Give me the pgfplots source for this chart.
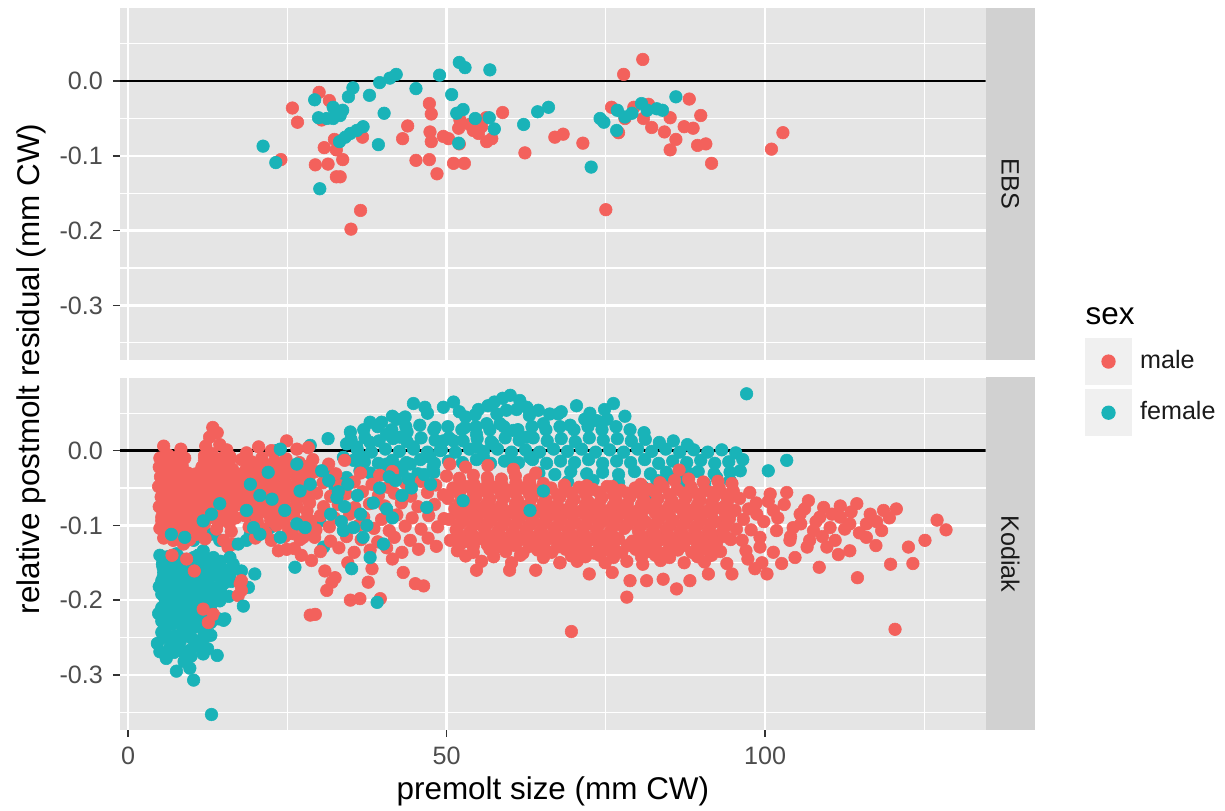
\documentclass[border=0pt]{standalone}
\usepackage{fontspec}
\setmainfont{Liberation Sans}
\usepackage{pgfplots}
\pgfplotsset{compat=1.18}

\definecolor{mred}{HTML}{F3615C}
\definecolor{fteal}{HTML}{19B3B8}
\definecolor{panelbg}{HTML}{E5E5E5}
\definecolor{stripbg}{HTML}{D1D1D1}
\definecolor{keybg}{HTML}{F0F0F0}
\definecolor{tickcol}{HTML}{4D4D4D}
\definecolor{tickmark}{HTML}{333333}
\definecolor{striptext}{HTML}{1A1A1A}

\pgfplotsset{
  panel/.style={
    scale only axis, width=302.925pt, height=123.375pt,
    xmin=-1.26, xmax=134.6, ymin=-0.3737, ymax=0.0978,
    axis background/.style={fill=panelbg},
    axis line style={draw=none},
    xtick={0,50,100}, minor xtick={25,75,125},
    ytick={-0.3,-0.2,-0.1,0}, yticklabels={-0.3,-0.2,-0.1,0.0},
    minor ytick={-0.35,-0.25,-0.15,-0.05,0.05},
    grid=both,
    major grid style={white, line width=0.9pt},
    minor grid style={white, line width=0.45pt},
    minor tick length=0pt, major tick length=2.45pt,
    tick align=outside,
    xtick pos=left, ytick pos=left,
    tick style={draw=tickmark, line width=0.5pt},
    /pgf/number format/assume math mode=true,
    ticklabel style={font=\fontsize{8.8}{10}\selectfont, text=tickcol},
  },
  male/.style={only marks, mark=*, mark size=2.2pt, color=mred, mark options={line width=0.2pt}},
  female/.style={only marks, mark=*, mark size=2.2pt, color=fteal, mark options={line width=0.2pt}},
  zeroline/.style={black, line width=0.9pt},
}

\begin{document}
\begin{tikzpicture}
\path[use as bounding box] (0,0) rectangle (428.75pt,283.85pt);

% ---------------- EBS ----------------
\begin{axis}[panel, at={(42pt,157.675pt)}, anchor=south west,
  xticklabels={}, xtick style={draw=none}]
\addplot[male] coordinates {
(24.0,-0.105) (25.8,-0.036) (26.6,-0.055) (30.0,-0.015) (31.6,-0.026) (30.4,-0.052)
(32.4,-0.078) (30.8,-0.089) (32.7,-0.092) (33.7,-0.105) (29.4,-0.112) (31.4,-0.111)
(32.7,-0.128) (33.3,-0.128) (36.5,-0.173) (35.0,-0.198) (36.8,-0.075) (43.9,-0.060)
(43.1,-0.077) (47.3,-0.030) (47.6,-0.044) (47.4,-0.068) (47.6,-0.081) (49.5,-0.074)
(50.3,-0.077) (45.2,-0.106) (47.3,-0.105) (48.5,-0.124) (51.1,-0.110) (52.8,-0.110)
(52.0,-0.084) (51.9,-0.063) (52.1,-0.052) (54.2,-0.066) (55.5,-0.061) (56.2,-0.049)
(56.3,-0.081) (57.1,-0.077) (58.8,-0.042) (62.3,-0.096) (67.0,-0.075) (68.3,-0.071)
(71.4,-0.083) (75.0,-0.172) (77.8,0.009) (80.8,0.029) (75.9,-0.035) (77.0,-0.069)
(79.4,-0.035) (81.7,-0.031) (80.9,-0.050) (82.2,-0.062) (85.1,-0.049) (84.2,-0.068)
(86.0,-0.078) (85.1,-0.092) (88.1,-0.024) (87.3,-0.061) (88.7,-0.063) (89.9,-0.046)
(89.4,-0.086) (90.7,-0.084) (91.6,-0.110) (101.0,-0.091) (102.8,-0.069) (78.0,-0.050)
(53.6,-0.058) (55.0,-0.070)
};
\addplot[female] coordinates {
(21.2,-0.087) (23.2,-0.109) (29.3,-0.025) (30.1,-0.144) (29.9,-0.049) (31.2,-0.050)
(32.2,-0.050) (32.2,-0.035) (33.7,-0.039) (33.3,-0.046) (34.6,-0.021) (35.3,-0.009)
(33.2,-0.081) (34.1,-0.075) (34.9,-0.070) (35.9,-0.066) (36.9,-0.061) (37.9,-0.019)
(39.3,-0.085) (39.5,-0.002) (40.2,-0.043) (41.1,0.004) (42.1,0.009) (45.2,-0.010)
(48.9,0.008) (50.8,-0.018) (52.0,0.025) (52.9,0.018) (56.8,0.015) (51.6,-0.043)
(52.6,-0.038) (51.9,-0.083) (54.5,-0.050) (56.7,-0.049) (57.5,-0.064) (62.1,-0.058)
(64.3,-0.041) (66.0,-0.035) (72.7,-0.115) (74.1,-0.050) (74.7,-0.055) (76.8,-0.039)
(76.7,-0.066) (78.0,-0.048) (79.1,-0.043) (80.6,-0.030) (81.5,-0.039) (83.0,-0.037)
(83.9,-0.039) (86.0,-0.021)
};
\addplot[zeroline] coordinates {(-1.26,0) (134.6,0)};
\end{axis}

% ---------------- Kodiak ----------------
\begin{axis}[panel, at={(42pt,28.35pt)}, anchor=south west,
  legend style={at={(1.1149,1.1121)}, anchor=north west, draw=none, fill=none,
    inner sep=0pt, outer sep=0pt, row sep=1.4pt, column sep=2.8pt,
    font=\fontsize{8.8}{10}\selectfont, text=striptext, nodes={inner sep=0pt}},
  legend cell align=left,
  legend image code/.code={\fill[keybg] (0pt,-8.05pt) rectangle (16.1pt,8.05pt);
    \fill (8.05pt,0pt) circle (2.3pt);}]
% females, lower layer
\addplot[female, forget plot] coordinates {
(13.1,-0.353) (10.3,-0.307) (7.6,-0.295) (9.7,-0.291) (14.0,-0.274) (5.0,-0.269)
(6.6,-0.263) (9.7,-0.267) (13.0,-0.247) (5.3,-0.243) (7.4,-0.248) (11.3,-0.254)
(15.0,-0.227) (5.3,-0.228) (5.3,-0.210) (5.3,-0.192) (5.3,-0.174) (5.5,-0.156)
(5.8,-0.147) (7.1,-0.152) (7.6,-0.174) (7.4,-0.210) (7.6,-0.228) (9.2,-0.201)
(9.2,-0.223) (9.7,-0.245) (11.3,-0.219) (10.8,-0.183) (9.2,-0.165) (12.3,-0.174)
(13.9,-0.183) (14.4,-0.201) (14.7,-0.161) (13.4,-0.143) (11.8,-0.134) (10.3,-0.143)
(7.6,-0.138) (6.6,-0.112) (10.3,-0.120) (12.9,-0.112) (12.9,-0.089) (14.4,-0.120)
(18.6,-0.120) (19.9,-0.165) (17.8,-0.161) (18.9,-0.183) (19.2,-0.112) (19.9,-0.089)
(19.2,-0.040) (21.8,-0.027) (23.3,0.000) (24.4,-0.080) (22.3,-0.103) (26.5,-0.054)
(28.1,-0.054) (28.6,0.007) (31.4,0.016) (30.9,-0.029) (32.5,-0.049) (27.0,-0.096)
(30.7,-0.129) (30.1,-0.094)
(5.0,-0.140) (6.2,-0.142) (8.5,-0.145) (11.0,-0.140) (12.5,-0.145)
(5.6,-0.163) (6.8,-0.158) (8.2,-0.160) (9.5,-0.155) (11.5,-0.158) (12.8,-0.163)
(14.0,-0.155) (15.3,-0.160) (16.5,-0.152)
(4.9,-0.182) (6.2,-0.178) (7.5,-0.185) (8.7,-0.180) (10.0,-0.178) (11.2,-0.184)
(12.6,-0.180) (15.0,-0.178) (16.2,-0.175)
(5.8,-0.198) (7.0,-0.202) (8.2,-0.196) (10.5,-0.200) (12.0,-0.198) (13.2,-0.203)
(15.8,-0.195) (4.8,-0.218) (6.3,-0.222) (8.0,-0.216) (10.0,-0.220) (14.2,-0.225)
(12.0,-0.228) (5.9,-0.238) (8.6,-0.240) (10.4,-0.236) (11.9,-0.242)
(4.6,-0.258) (7.0,-0.260) (8.2,-0.255) (11.0,-0.262) (12.5,-0.265)
(6.0,-0.278) (8.8,-0.282) (9.9,-0.275)
(5.5,-0.150) (7.0,-0.149) (8.5,-0.153) (10.0,-0.150) (11.5,-0.151) (13.0,-0.152) (14.5,-0.148)
(5.5,-0.170) (7.0,-0.168) (8.5,-0.171) (10.0,-0.169) (11.5,-0.172) (13.0,-0.168) (14.5,-0.170) (16.0,-0.166)
(5.5,-0.190) (7.0,-0.188) (8.5,-0.191) (10.0,-0.189) (11.5,-0.192) (13.0,-0.190) (14.5,-0.188)
(5.5,-0.210) (7.0,-0.212) (8.5,-0.208) (10.0,-0.211) (11.5,-0.209) (13.0,-0.213)
(5.5,-0.230) (7.0,-0.232) (8.5,-0.229) (10.0,-0.231) (11.5,-0.233) (13.0,-0.230)
(5.5,-0.250) (7.0,-0.252) (8.5,-0.249) (10.0,-0.251) (12.0,-0.250)
(7.2,-0.270) (8.4,-0.268) (11.8,-0.272)
(34.9,0.025) (38.0,0.038) (39.8,0.038) (42.2,0.042) (43.5,0.045) (44.8,0.063)
(46.6,0.058) (45.8,0.034) (48.2,0.031) (49.5,0.058) (51.1,0.065) (52.9,0.031)
(51.1,0.013) (49.0,0.000) (47.4,-0.009) (44.8,0.005) (42.7,0.018) (43.8,0.025)
(40.6,0.022) (38.0,0.011) (35.9,0.005) (34.3,0.009) (33.8,-0.009) (35.4,-0.013)
(36.9,-0.009) (36.4,-0.027) (34.3,-0.036) (32.8,-0.045) (31.2,-0.029) (40.6,-0.018)
(42.7,-0.022) (44.3,-0.018) (45.8,-0.040) (47.9,-0.022) (49.5,0.013) (54.7,0.022)
(56.3,0.036) (57.9,0.049) (60.0,0.074) (61.5,0.067) (62.6,0.058) (59.4,0.054)
(58.4,0.036) (60.5,0.027) (62.6,0.018) (57.3,0.009) (54.7,0.005) (60.0,-0.013)
(63.1,-0.009) (55.8,-0.009)
(53.0,0.045) (55.0,0.055) (56.5,0.060) (57.5,0.065) (58.8,0.070) (61.0,0.055)
(64.4,0.054) (66.2,0.049) (67.5,0.049) (70.4,0.060) (76.2,0.063) (71.7,0.042)
(73.6,0.040) (75.2,0.042) (69.4,0.034) (65.2,0.036) (96.1,-0.027) (92.4,-0.036)
(94.5,-0.040) (88.2,-0.031) (85.1,-0.036) (83.0,-0.040) (80.9,-0.049) (81.7,-0.067)
(97.1,0.076) (100.5,-0.027) (103.4,-0.013)
(41.5,0.046) (47.0,0.050) (52.0,0.052) (54.5,0.048) (63.0,0.047) (68.0,0.052) (72.5,0.050) (74.8,0.055) (78.0,0.046)
(37.0,0.028) (39.2,0.032) (41.4,0.028) (43.6,0.032) (48.0,0.028) (50.2,0.032) (52.4,0.028) (54.6,0.032) (56.8,0.028) (59.0,0.032) (61.2,0.028) (63.4,0.032) (65.6,0.028) (67.8,0.032) (70.0,0.028) (72.2,0.032) (74.4,0.028) (76.6,0.032) (78.8,0.028) (81.0,0.024)
(35.0,0.015) (37.2,0.017) (39.4,0.013) (41.6,0.016) (43.8,0.012) (46.0,0.017) (48.2,0.014) (50.4,0.017) (52.6,0.013) (54.8,0.016) (57.0,0.012) (59.2,0.017) (61.4,0.014) (63.6,0.017) (65.8,0.013) (68.0,0.016) (70.2,0.012) (72.4,0.017) (74.6,0.014) (76.8,0.016) (79.0,0.013) (81.2,0.015) (83.4,0.011) (85.6,0.013) (87.8,0.008)
(36.0,0.001) (38.2,-0.002) (40.4,0.002) (42.6,-0.001) (44.8,0.002) (47.0,-0.002) (49.2,0.001) (51.4,-0.002) (53.6,0.002) (55.8,-0.001) (58.0,0.002) (60.2,-0.002) (62.4,0.001) (64.6,-0.002) (66.8,0.002) (69.0,-0.001) (71.2,0.002) (73.4,-0.002) (75.6,0.001) (77.8,-0.002) (80.0,0.002) (82.2,-0.001) (84.4,0.002) (86.6,-0.002) (88.8,0.001) (91.0,-0.002) (93.2,0.001) (95.4,-0.003)
(37.1,-0.015) (39.3,-0.017) (41.5,-0.013) (43.7,-0.016) (45.9,-0.012) (48.1,-0.017) (50.3,-0.014) (52.5,-0.016) (54.7,-0.012) (56.9,-0.017) (59.1,-0.014) (61.3,-0.016) (63.5,-0.012) (65.7,-0.017) (67.9,-0.014) (70.1,-0.016) (72.3,-0.012) (74.5,-0.017) (76.7,-0.014) (78.9,-0.016) (81.1,-0.012) (83.3,-0.017) (85.5,-0.014) (87.7,-0.016) (89.9,-0.013) (92.1,-0.017) (94.3,-0.015) (96.5,-0.012)
(38.0,-0.030) (40.5,-0.032) (43.0,-0.028) (45.5,-0.031) (48.0,-0.029) (64.5,-0.030) (67.0,-0.032) (69.5,-0.028) (72.0,-0.031) (74.5,-0.029) (77.0,-0.032) (79.5,-0.028) (82.0,-0.031) (84.5,-0.029) (87.0,-0.032) (89.5,-0.028) (92.0,-0.031) (94.5,-0.029)
(69.0,-0.042) (73.0,-0.040) (77.0,-0.043) (87.0,-0.041) (90.5,-0.044)
};
% males
\addplot[male, forget plot] coordinates {
(13.3,0.031) (14.0,0.024) (12.8,0.018)
(5.6,0.006) (8.3,0.002) (12.2,0.006) (14.4,0.008) (15.5,0.001)
(5.0,-0.010) (6.3,-0.006) (7.6,-0.009) (8.9,-0.010) (12.0,-0.007) (13.2,-0.004) (14.8,-0.010) (16.0,-0.008)
(4.9,-0.022) (6.0,-0.020) (7.2,-0.024) (8.5,-0.020) (11.6,-0.022) (12.8,-0.018) (14.1,-0.023) (15.3,-0.020) (16.4,-0.025)
(5.1,-0.035) (6.4,-0.032) (7.7,-0.036) (9.0,-0.033) (10.3,-0.038) (11.5,-0.034) (12.7,-0.036) (13.9,-0.033) (15.1,-0.037) (16.3,-0.035) (17.4,-0.032)
(4.8,-0.048) (6.0,-0.046) (7.3,-0.050) (8.6,-0.047) (9.9,-0.050) (11.1,-0.046) (12.4,-0.049) (13.6,-0.047) (14.9,-0.050) (16.1,-0.048) (17.2,-0.052)
(5.2,-0.062) (6.5,-0.060) (7.8,-0.064) (9.1,-0.061) (10.4,-0.063) (11.7,-0.060) (13.0,-0.064) (14.3,-0.062) (15.6,-0.059) (16.8,-0.065)
(4.9,-0.075) (6.1,-0.078) (7.4,-0.074) (8.7,-0.077) (10.0,-0.079) (11.3,-0.075) (12.6,-0.078) (13.8,-0.074) (15.2,-0.079) (16.5,-0.076)
(5.3,-0.089) (6.6,-0.092) (7.9,-0.088) (9.2,-0.091) (10.5,-0.090) (11.8,-0.093) (13.1,-0.089) (15.7,-0.094) (16.9,-0.090)
(5.0,-0.104) (6.3,-0.102) (7.6,-0.106) (8.9,-0.103) (10.2,-0.105) (11.4,-0.108) (13.9,-0.105) (16.2,-0.108)
(5.6,-0.117) (7.1,-0.120) (8.4,-0.116) (9.7,-0.119) (12.1,-0.118) (15.0,-0.120)
(5.5,-0.015) (6.8,-0.016) (8.1,-0.014) (12.0,-0.013) (13.3,-0.015) (14.6,-0.016) (15.9,-0.014)
(5.5,-0.028) (6.8,-0.029) (8.1,-0.027) (9.4,-0.030) (10.7,-0.031) (12.0,-0.028) (13.3,-0.029) (14.6,-0.027) (15.9,-0.030)
(5.5,-0.041) (6.8,-0.042) (8.1,-0.040) (9.4,-0.043) (10.7,-0.041) (12.0,-0.042) (13.3,-0.040) (14.6,-0.043) (15.9,-0.041)
(5.5,-0.055) (6.8,-0.054) (8.1,-0.056) (9.4,-0.055) (10.7,-0.054) (12.0,-0.056) (13.3,-0.055) (14.6,-0.054) (15.9,-0.056)
(5.5,-0.069) (6.8,-0.068) (8.1,-0.070) (9.4,-0.069) (10.7,-0.068) (12.0,-0.070) (13.3,-0.069) (14.6,-0.068) (15.9,-0.070)
(5.5,-0.083) (6.8,-0.082) (8.1,-0.084) (9.4,-0.083) (10.7,-0.082) (12.0,-0.084) (14.6,-0.082) (15.9,-0.084)
(5.5,-0.097) (6.8,-0.096) (8.1,-0.098) (9.4,-0.097) (10.7,-0.096) (12.0,-0.098) (15.9,-0.097)
(6.2,-0.110) (8.1,-0.111) (10.7,-0.112)
(12.6,-0.230) (11.8,-0.212) (13.4,-0.219) (17.3,-0.194) (17.6,-0.178) (14.4,-0.094)
(15.7,-0.129) (10.4,-0.161) (9.2,-0.145) (6.9,-0.140) (17.8,-0.174) (17.8,-0.187)
(6.1,-0.114) (5.3,-0.094) (8.7,-0.125) (14.2,-0.096) (16.5,-0.125)
(20.5,0.005) (22.5,0.000) (24.9,0.013) (26.5,0.002) (28.3,0.004) (18.6,-0.003)
(17.8,-0.012) (19.4,-0.015) (21.0,-0.010) (23.0,-0.014) (24.8,-0.011) (26.9,-0.016) (29.0,-0.012) (31.5,-0.018) (34.0,-0.013)
(18.4,-0.027) (20.1,-0.030) (21.8,-0.025) (23.6,-0.029) (25.5,-0.026) (27.4,-0.030) (29.4,-0.028) (32.6,-0.031) (36.5,-0.030) (39.5,-0.033) (41.5,-0.028)
(17.6,-0.042) (19.3,-0.044) (21.1,-0.040) (22.9,-0.045) (24.7,-0.043) (26.6,-0.041) (28.6,-0.046) (30.6,-0.043) (33.2,-0.047) (35.5,-0.042) (38.3,-0.045) (40.8,-0.049) (43.6,-0.044) (46.0,-0.041) (48.3,-0.046)
(18.2,-0.057) (20.0,-0.060) (21.9,-0.056) (23.7,-0.059) (25.6,-0.055) (27.5,-0.060) (29.6,-0.057) (31.8,-0.061) (34.2,-0.058) (36.8,-0.055) (39.3,-0.060) (41.8,-0.057) (44.4,-0.061) (47.0,-0.056) (49.5,-0.059)
(17.5,-0.072) (19.2,-0.074) (21.0,-0.070) (22.8,-0.075) (24.6,-0.071) (26.5,-0.074) (28.5,-0.070) (30.7,-0.075) (33.0,-0.072) (35.6,-0.076) (37.9,-0.071) (40.3,-0.074) (42.9,-0.070) (45.5,-0.075) (48.1,-0.072)
(18.3,-0.087) (20.2,-0.090) (22.1,-0.085) (24.0,-0.089) (26.0,-0.086) (28.1,-0.091) (30.2,-0.087) (32.4,-0.090) (34.8,-0.085) (37.0,-0.089) (39.8,-0.092) (42.2,-0.086) (44.6,-0.090) (47.2,-0.087) (49.6,-0.091)
(19.0,-0.102) (21.2,-0.105) (23.3,-0.100) (25.2,-0.104) (27.3,-0.101) (29.5,-0.106) (31.6,-0.102) (33.9,-0.106) (36.2,-0.100) (38.6,-0.104) (41.0,-0.107) (43.5,-0.101) (46.0,-0.105) (48.6,-0.102)
(20.0,-0.117) (22.5,-0.120) (24.6,-0.115) (27.0,-0.119) (29.3,-0.116) (31.8,-0.121) (34.3,-0.115) (36.6,-0.119) (39.2,-0.122) (41.8,-0.116) (44.3,-0.120) (47.1,-0.117)
(23.6,-0.134) (26.1,-0.131) (30.2,-0.135) (33.1,-0.130) (35.5,-0.136) (38.0,-0.133) (40.6,-0.130) (43.0,-0.136) (45.6,-0.132) (48.4,-0.128)
(18.8,-0.020) (20.8,-0.021) (22.6,-0.019) (24.3,-0.022) (26.2,-0.020) (28.2,-0.021)
(19.0,-0.035) (21.0,-0.034) (22.8,-0.036) (24.6,-0.035) (26.5,-0.034) (28.4,-0.036)
(18.6,-0.050) (20.6,-0.049) (22.4,-0.051) (24.2,-0.050) (26.1,-0.049) (28.0,-0.051)
(18.9,-0.065) (20.9,-0.064) (22.7,-0.066) (24.5,-0.065) (26.4,-0.064) (28.3,-0.066)
(18.7,-0.080) (20.7,-0.079) (22.5,-0.081) (24.3,-0.080) (26.2,-0.079) (28.1,-0.081)
(20.3,-0.095) (22.4,-0.094) (24.5,-0.096) (26.6,-0.095) (28.7,-0.094)
(21.6,-0.110) (25.8,-0.111) (28.4,-0.109)
(28.6,-0.220) (34.9,-0.200) (36.4,-0.198) (39.6,-0.198) (37.7,-0.176) (43.2,-0.163)
(45.1,-0.178) (46.4,-0.181) (31.2,-0.187) (38.3,-0.158) (32.5,-0.170) (28.8,-0.147)
(29.4,-0.219) (30.9,-0.161) (32.0,-0.176) (24.9,-0.132) (27.5,-0.116) (34.5,-0.150)
(41.5,-0.145) (27.2,-0.140)
(50.5,-0.018) (53.0,-0.022) (56.5,-0.020) (60.5,-0.025) (64.0,-0.030) (86.5,-0.026)
(50.0,-0.034) (52.0,-0.037) (54.2,-0.033) (56.4,-0.036) (58.6,-0.038) (60.8,-0.034) (63.0,-0.039)
(65.2,-0.044) (68.5,-0.046) (72.0,-0.047) (76.0,-0.048) (80.5,-0.045) (83.5,-0.043) (85.8,-0.040) (88.0,-0.038) (90.3,-0.042) (92.6,-0.041) (94.8,-0.044)
(51.0,-0.050) (53.2,-0.048) (55.4,-0.052) (57.6,-0.049) (59.8,-0.053) (62.0,-0.050) (64.2,-0.054) (66.4,-0.050) (68.6,-0.053) (70.8,-0.049) (73.0,-0.052) (75.2,-0.048) (77.4,-0.053) (79.6,-0.050) (81.8,-0.052) (84.0,-0.048) (86.2,-0.052) (88.4,-0.049) (90.6,-0.053) (92.8,-0.050) (95.0,-0.054)
(50.2,-0.064) (52.4,-0.066) (54.6,-0.062) (56.8,-0.065) (59.0,-0.063) (61.2,-0.067) (63.4,-0.063) (65.6,-0.066) (67.8,-0.062) (70.0,-0.065) (72.2,-0.068) (74.4,-0.063) (76.6,-0.066) (78.8,-0.062) (81.0,-0.066) (83.2,-0.064) (85.4,-0.067) (87.6,-0.063) (89.8,-0.066) (92.0,-0.062) (94.2,-0.066)
(51.3,-0.078) (53.5,-0.080) (55.7,-0.076) (57.9,-0.079) (60.1,-0.081) (62.3,-0.077) (64.5,-0.080) (66.7,-0.076) (68.9,-0.079) (71.1,-0.081) (73.3,-0.077) (75.5,-0.080) (77.7,-0.078) (79.9,-0.081) (82.1,-0.077) (84.3,-0.080) (86.5,-0.076) (88.7,-0.079) (90.9,-0.081) (93.1,-0.077) (95.3,-0.080)
(50.4,-0.092) (52.6,-0.094) (54.8,-0.090) (57.0,-0.093) (59.2,-0.095) (61.4,-0.091) (63.6,-0.094) (65.8,-0.090) (68.0,-0.093) (70.2,-0.096) (72.4,-0.091) (74.6,-0.094) (76.8,-0.090) (79.0,-0.093) (81.2,-0.095) (83.4,-0.091) (85.6,-0.094) (87.8,-0.090) (90.0,-0.093) (92.2,-0.095) (94.4,-0.091)
(51.5,-0.106) (53.7,-0.108) (55.9,-0.104) (58.1,-0.107) (60.3,-0.109) (62.5,-0.105) (64.7,-0.108) (66.9,-0.104) (69.1,-0.107) (71.3,-0.109) (73.5,-0.105) (75.7,-0.108) (77.9,-0.104) (80.1,-0.107) (82.3,-0.109) (84.5,-0.105) (86.7,-0.108) (88.9,-0.104) (91.1,-0.107) (93.3,-0.109)
(50.6,-0.120) (52.8,-0.122) (55.0,-0.118) (57.2,-0.121) (59.4,-0.123) (61.6,-0.119) (63.8,-0.122) (66.0,-0.118) (68.2,-0.121) (70.4,-0.123) (72.6,-0.119) (74.8,-0.122) (77.0,-0.118) (79.2,-0.121) (81.4,-0.123) (83.6,-0.119) (85.8,-0.122) (88.0,-0.118) (90.2,-0.121) (92.4,-0.123) (94.6,-0.119)
(51.7,-0.134) (54.2,-0.136) (56.8,-0.132) (59.3,-0.135) (62.0,-0.137) (64.3,-0.133) (66.5,-0.136) (68.7,-0.132) (70.9,-0.135) (73.1,-0.137) (75.3,-0.133) (77.5,-0.136) (79.7,-0.132) (81.9,-0.135) (84.1,-0.137) (86.3,-0.133) (88.5,-0.136) (90.7,-0.132) (93.0,-0.135)
(52.1,-0.043) (54.3,-0.045) (56.5,-0.042) (58.7,-0.046) (60.9,-0.043) (63.1,-0.045)
(52.0,-0.057) (54.2,-0.058) (56.4,-0.056) (58.6,-0.059) (60.8,-0.057) (63.0,-0.058) (65.2,-0.056) (67.4,-0.059) (69.6,-0.057) (71.8,-0.058) (74.0,-0.056) (76.2,-0.059) (78.4,-0.057) (80.6,-0.058) (82.8,-0.056) (85.0,-0.059) (87.2,-0.057) (89.4,-0.058) (91.6,-0.056) (93.8,-0.059)
(52.0,-0.071) (54.2,-0.072) (56.4,-0.070) (58.6,-0.073) (60.8,-0.071) (63.0,-0.072) (65.2,-0.070) (67.4,-0.073) (69.6,-0.071) (71.8,-0.072) (74.0,-0.070) (76.2,-0.073) (78.4,-0.071) (80.6,-0.072) (82.8,-0.070) (85.0,-0.073) (87.2,-0.071) (89.4,-0.072) (91.6,-0.070) (93.8,-0.073)
(52.0,-0.085) (54.2,-0.086) (56.4,-0.084) (58.6,-0.087) (60.8,-0.085) (63.0,-0.086) (65.2,-0.084) (67.4,-0.087) (69.6,-0.085) (71.8,-0.086) (74.0,-0.084) (76.2,-0.087) (78.4,-0.085) (80.6,-0.086) (82.8,-0.084) (85.0,-0.087) (87.2,-0.085) (89.4,-0.086) (91.6,-0.084) (93.8,-0.087)
(52.0,-0.099) (54.2,-0.100) (56.4,-0.098) (58.6,-0.101) (60.8,-0.099) (63.0,-0.100) (65.2,-0.098) (67.4,-0.101) (69.6,-0.099) (71.8,-0.100) (74.0,-0.098) (76.2,-0.101) (78.4,-0.099) (80.6,-0.100) (82.8,-0.098) (85.0,-0.101) (87.2,-0.099) (89.4,-0.100) (91.6,-0.098) (93.8,-0.101)
(52.0,-0.113) (54.2,-0.114) (56.4,-0.112) (58.6,-0.115) (60.8,-0.113) (63.0,-0.114) (65.2,-0.112) (67.4,-0.115) (69.6,-0.113) (71.8,-0.114) (74.0,-0.112) (76.2,-0.115) (80.6,-0.114) (82.8,-0.112) (85.0,-0.115) (87.2,-0.113) (89.4,-0.114) (91.6,-0.112) (93.8,-0.115)
(52.0,-0.127) (54.2,-0.128) (56.4,-0.126) (58.6,-0.129) (60.8,-0.127) (63.0,-0.128) (65.2,-0.126) (67.4,-0.129) (69.6,-0.127) (71.8,-0.128) (74.0,-0.126) (76.2,-0.129) (78.4,-0.127) (80.6,-0.128) (82.8,-0.126) (85.0,-0.129) (87.2,-0.127) (89.4,-0.128) (91.6,-0.126)
(53.0,-0.141) (57.4,-0.142) (61.6,-0.140) (65.2,-0.143) (69.6,-0.141) (71.8,-0.142) (74.0,-0.140) (76.2,-0.143) (80.6,-0.142) (82.8,-0.140) (85.0,-0.143) (89.4,-0.142) (91.6,-0.140)
(55.5,-0.148) (60.2,-0.150) (67.8,-0.150) (70.5,-0.148) (72.4,-0.165) (74.9,-0.150) (78.3,-0.148) (80.8,-0.152) (83.6,-0.147) (87.3,-0.150) (90.5,-0.149) (94.0,-0.151)
(78.3,-0.196) (78.8,-0.174) (81.4,-0.174) (84.0,-0.172) (86.1,-0.185) (88.2,-0.174)
(91.1,-0.165) (94.8,-0.165) (54.7,-0.160) (59.9,-0.160) (52.1,-0.118) (69.6,-0.242)
(76.0,-0.163) (64.0,-0.160) (65.7,-0.134) (67.8,-0.150)
(120.6,-0.078) (127.0,-0.093) (128.4,-0.106) (125.1,-0.120) (122.5,-0.129) (123.2,-0.151)
(119.7,-0.152) (114.5,-0.170) (120.4,-0.239) (108.5,-0.156) (113.3,-0.134) (111.5,-0.139)
(117.4,-0.127) (118.3,-0.107) (118.6,-0.080) (114.4,-0.071) (111.8,-0.074) (109.2,-0.076)
(106.8,-0.067) (103.4,-0.056) (100.8,-0.058) (97.6,-0.056) (104.7,-0.143) (102.6,-0.151)
(100.3,-0.165) (98.4,-0.158) (101.3,-0.136) (106.6,-0.129) (109.7,-0.129) (115.9,-0.098)
(115.9,-0.116) (113.3,-0.098) (110.2,-0.103) (107.6,-0.107) (104.4,-0.103) (101.8,-0.107)
(99.2,-0.116) (105.5,-0.085) (108.6,-0.089) (111.8,-0.089) (101.3,-0.080) (98.7,-0.085)
(99.2,-0.129) (103.9,-0.120)
(96.0,-0.064) (97.4,-0.078) (96.6,-0.092) (97.8,-0.106) (96.4,-0.120) (97.0,-0.134)
(98.6,-0.070) (99.8,-0.095) (100.5,-0.068) (102.0,-0.090) (103.0,-0.072) (104.0,-0.115)
(105.6,-0.098) (106.2,-0.078) (107.0,-0.120) (108.0,-0.095) (109.0,-0.115) (110.5,-0.085)
(111.0,-0.120) (112.5,-0.105) (113.5,-0.082) (114.8,-0.110) (116.5,-0.085) (117.5,-0.095)
(119.5,-0.090) (97.3,-0.145) (99.5,-0.150) (95.5,-0.105)
};
% females, upper layer
\addplot[female, forget plot] coordinates {
(8.9,-0.116) (6.8,-0.112) (11.8,-0.094) (13.1,-0.085) (14.4,-0.071) (18.6,-0.080)
(19.7,-0.103) (20.7,-0.112) (23.9,-0.116) (20.7,-0.060) (22.6,-0.065) (24.6,-0.080)
(19.2,-0.045) (22.0,-0.029) (23.9,0.002) (26.5,-0.018) (27.0,-0.054) (28.6,-0.045)
(30.4,-0.027) (32.8,-0.063) (26.5,-0.098) (27.8,-0.103) (33.8,-0.107) (35.4,-0.103)
(36.9,-0.116) (38.0,-0.143) (35.1,-0.158) (40.1,-0.125) (46.9,-0.076) (52.6,-0.067)
(40.6,-0.078) (63.1,-0.080) (65.2,-0.054) (39.1,-0.203) (26.2,-0.156) (16.0,-0.143)
(17.3,-0.125) (15.2,-0.225) (18.1,-0.208) (5.4,-0.152)
(31.5,-0.040) (33.0,-0.055) (34.5,-0.045) (36.0,-0.060) (34.0,-0.075) (36.5,-0.085)
(38.5,-0.070) (31.8,-0.085) (33.5,-0.095) (37.5,-0.100) (41.5,-0.090) (43.0,-0.060)
(39.5,-0.050) (42.0,-0.040) (44.5,-0.050) (47.5,-0.045) (41.0,-0.035) (44.0,-0.038)
(46.5,-0.032)
};
\addplot[zeroline, forget plot] coordinates {(-1.26,0) (134.6,0)};
\addlegendimage{mred}\addlegendentry{male}
\addlegendimage{fteal}\addlegendentry{female}
\end{axis}

% strips
\fill[stripbg] (344.925pt,157.675pt) rectangle (362.25pt,281.05pt);
\fill[stripbg] (344.925pt,28.35pt) rectangle (362.25pt,151.725pt);
\node[rotate=-90, text=striptext, font=\fontsize{8.8}{10}\selectfont] at (353.6pt,219.4pt) {EBS};
\node[rotate=-90, text=striptext, font=\fontsize{8.8}{10}\selectfont] at (353.6pt,90.0pt) {Kodiak};

% axis titles
\node[rotate=90, font=\fontsize{11}{13}\selectfont] at (10.85pt,154.7pt) {relative postmolt residual (mm CW)};
\node[font=\fontsize{11}{13}\selectfont] at (193.5pt,7.0pt) {premolt size (mm CW)};
% legend title
\node[anchor=base west, inner sep=0pt, font=\fontsize{11}{13}\selectfont] at (379.75pt,170.1pt) {sex};
\end{tikzpicture}
\end{document}
